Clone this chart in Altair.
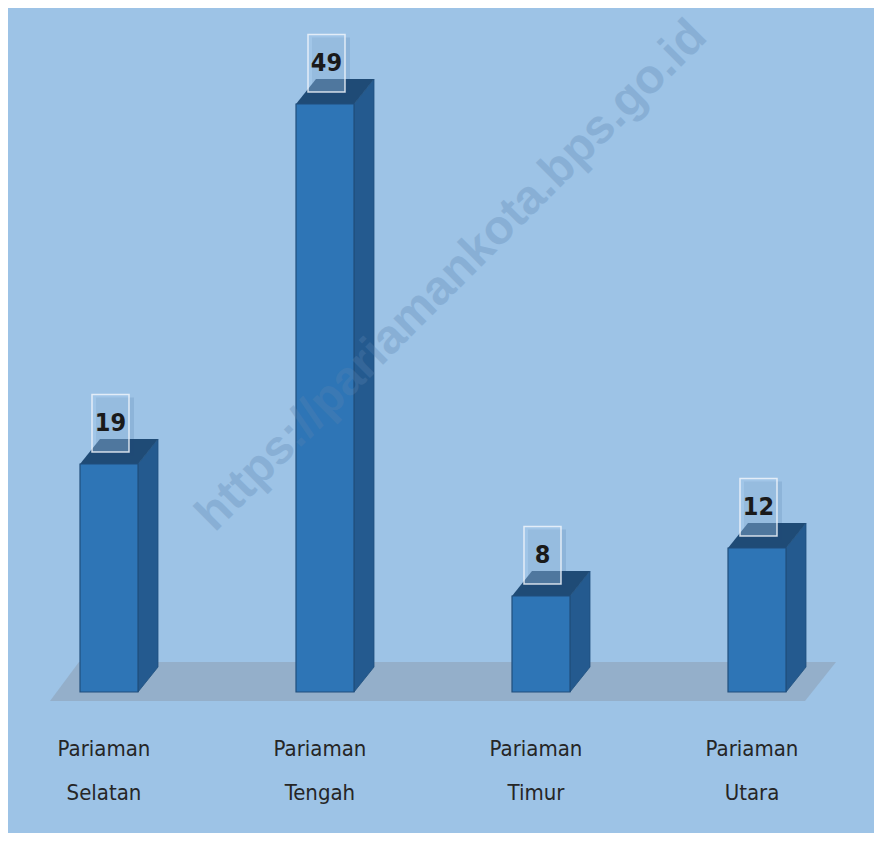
import altair as alt
import pandas as pd

# ---- data ----
categories = ["Pariaman Selatan", "Pariaman Tengah", "Pariaman Timur", "Pariaman Utara"]
values = [19, 49, 8, 12]
watermark = ["https://pariamankota.bps.go.id"]

# ---- geometry / style constants ----
W, H = 866, 825
PX_X = 216.0          # px per category slot
PX_Y = 12.0           # px per value unit
X0 = 101.0            # plot px of first bar centre
Y0 = 684.0            # plot px of the zero line
xdom = [-X0 / PX_X, (W - X0) / PX_X]
ydom = [-(H - Y0) / PX_Y, Y0 / PX_Y]

HALF = 29 / PX_X      # half bar width
DX = 20 / PX_X        # 3D depth, horizontal
DY = 25 / PX_Y        # 3D depth, vertical

FRONT = "#2E75B6"
SIDE = "#245A8F"
TOP = "#1F4B76"
FLOOR = "#93AEC8"
BG = "#9DC3E6"
FONT_NARROW = "DejaVu Sans Condensed, Liberation Sans Narrow, sans-serif"

xs = alt.Scale(domain=xdom, zero=False, nice=False)
ys = alt.Scale(domain=ydom, zero=False, nice=False)

base_df = pd.DataFrame({"cat": categories, "value": values, "i": list(range(len(values)))})

side_rows, top_rows = [], []
for c, v, i in zip(categories, values, range(len(values))):
    for k in (0, 1):
        side_rows.append({"cat": c, "x": i + HALF + k * DX, "ylo": k * DY, "yhi": v + k * DY})
        top_rows.append({"cat": c, "y": v + k * DY, "xa": i - HALF + k * DX, "xb": i + HALF + k * DX})
side_df = pd.DataFrame(side_rows)
top_df = pd.DataFrame(top_rows)


def px_to_x(px):
    return (px - 8 - X0) / PX_X


def py_to_y(py):
    return (Y0 - (py - 8)) / PX_Y


floor_df = pd.DataFrame([
    {"y": py_to_y(701), "xa": px_to_x(50), "xb": px_to_x(805)},
    {"y": py_to_y(662), "xa": px_to_x(79), "xb": px_to_x(836)},
])

floor = alt.Chart(floor_df).mark_area(orient="horizontal", color=FLOOR, opacity=0.95).encode(
    y=alt.Y("y:Q", scale=ys, axis=None),
    x=alt.X("xa:Q", scale=xs, axis=None, stack=False),
    x2="xb:Q",
)

side = alt.Chart(side_df).mark_area(color=SIDE, stroke="#1E4F7E", strokeWidth=0.8).encode(
    x=alt.X("x:Q", scale=xs, axis=None),
    y=alt.Y("yhi:Q", scale=ys, axis=None, stack=False),
    y2="ylo:Q",
    detail="cat:N",
)

top = alt.Chart(top_df).mark_area(orient="horizontal", color=TOP).encode(
    y=alt.Y("y:Q", scale=ys, axis=None),
    x=alt.X("xa:Q", scale=xs, axis=None, stack=False),
    x2="xb:Q",
    detail="cat:N",
)

front = alt.Chart(base_df).transform_calculate(
    xl=f"datum.i - {HALF}", xr=f"datum.i + {HALF}", zero="0"
).mark_rect(color=FRONT, stroke="#214F7C", strokeWidth=1.2).encode(
    x=alt.X("xl:Q", scale=xs, axis=None),
    x2="xr:Q",
    y=alt.Y("value:Q", scale=ys, axis=None),
    y2="zero:Q",
)

BW = 37 / PX_X
BOX_OFF = 1.5 / PX_X
box_shadow = alt.Chart(base_df).transform_calculate(
    bl=f"datum.i + {BOX_OFF} - {BW / 2} + {4 / PX_X}",
    br=f"datum.i + {BOX_OFF} + {BW / 2} + {5 / PX_X}",
    bb=f"datum.value + {1.0 - 4 / PX_Y}",
    bt=f"datum.value + {5.8 - 3 / PX_Y}",
).mark_rect(color="#1F4E79", opacity=0.12).encode(
    x=alt.X("bl:Q", scale=xs, axis=None), x2="br:Q",
    y=alt.Y("bb:Q", scale=ys, axis=None), y2="bt:Q",
)

box = alt.Chart(base_df).transform_calculate(
    bl=f"datum.i + {BOX_OFF} - {BW / 2}",
    br=f"datum.i + {BOX_OFF} + {BW / 2}",
    bb="datum.value + 1.0",
    bt="datum.value + 5.8",
).mark_rect(fill="#A9CBEA", fillOpacity=0.35, stroke="#EEF4FA", strokeOpacity=0.85, strokeWidth=1.5).encode(
    x=alt.X("bl:Q", scale=xs, axis=None), x2="br:Q",
    y=alt.Y("bb:Q", scale=ys, axis=None), y2="bt:Q",
)

vlabels = alt.Chart(base_df).transform_calculate(
    tx=f"datum.i + {BOX_OFF}", ty="datum.value + 3.4"
).mark_text(font=FONT_NARROW, fontWeight="bold", fontSize=25, color="#1A1A1A",
            align="center", baseline="middle").encode(
    x=alt.X("tx:Q", scale=xs, axis=None),
    y=alt.Y("ty:Q", scale=ys, axis=None),
    text="value:Q",
)

clabels = alt.Chart(base_df).transform_calculate(
    tx=f"datum.i - {5 / PX_X}", ty=f"{py_to_y(756)}"
).mark_text(font=FONT_NARROW, fontSize=22, color="#262626", align="center",
            baseline="alphabetic", lineBreak=" ", lineHeight=44).encode(
    x=alt.X("tx:Q", scale=xs, axis=None),
    y=alt.Y("ty:Q", scale=ys, axis=None),
    text="cat:N",
)

wm = alt.Chart(pd.DataFrame({"t": watermark})).transform_calculate(
    tx=f"{px_to_x(452)}", ty=f"{py_to_y(276)}"
).mark_text(font="Liberation Sans, Arial, sans-serif", fontWeight="bold", fontSize=48,
            angle=315, color="#5A84B0", opacity=0.3, align="center", baseline="middle").encode(
    x=alt.X("tx:Q", scale=xs, axis=None),
    y=alt.Y("ty:Q", scale=ys, axis=None),
    text="t:N",
)

chart = alt.layer(
    floor, side, top, front, wm, box_shadow, box, vlabels, clabels
).properties(
    width=W, height=H, background=BG, padding=0,
    autosize=alt.AutoSizeParams(type="none"),
).configure_view(strokeWidth=0)

chart.save("out.html", embed_options={"renderer": "svg", "actions": False})
